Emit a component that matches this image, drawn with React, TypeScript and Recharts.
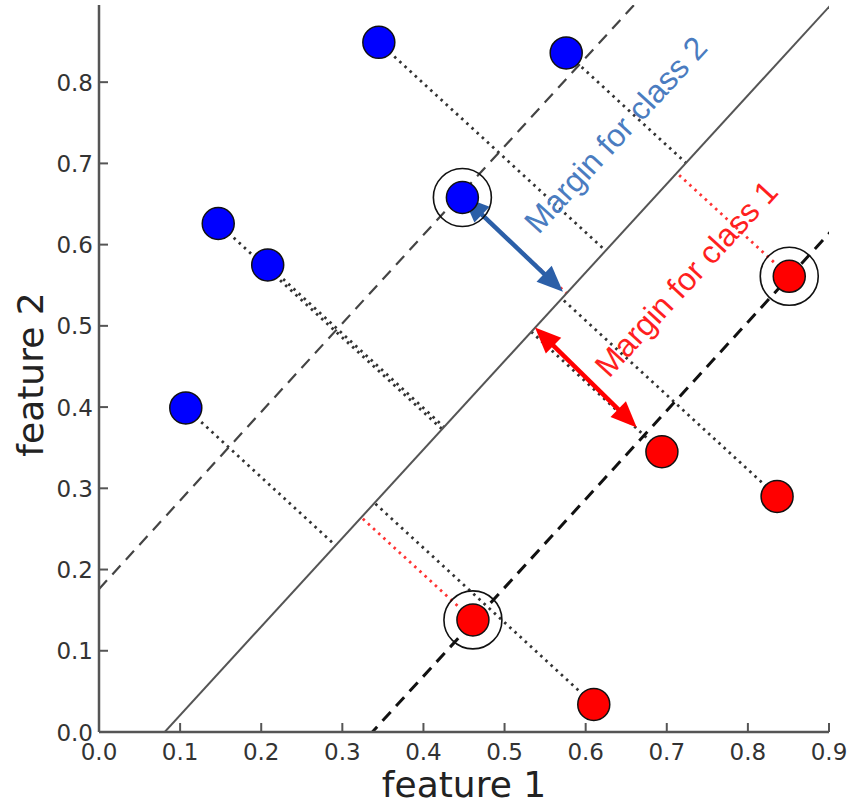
import { ReferenceDot, ReferenceLine, Scatter, ScatterChart, XAxis, YAxis } from "recharts"

const xTicks = [0, 0.1, 0.2, 0.3, 0.4, 0.5, 0.6, 0.7, 0.8, 0.9]
const yTicks = [0, 0.1, 0.2, 0.3, 0.4, 0.5, 0.6, 0.7, 0.8]

// class 2 (blue points)
const class2X = [0.345, 0.576, 0.448, 0.147, 0.208, 0.107]
const class2Y = [0.849, 0.836, 0.658, 0.626, 0.575, 0.399]

// class 1 (red points)
const class1X = [0.851, 0.694, 0.836, 0.461, 0.61]
const class1Y = [0.561, 0.345, 0.29, 0.138, 0.034]

// support vectors (ringed)
const supportX = [0.448, 0.851, 0.461]
const supportY = [0.658, 0.561, 0.138]

// boundary lines: y = slope * (x - x0)
const slope = 1.09
const boundaryX0 = 0.081
const margin2X0 = -0.1615
const margin1X0 = 0.337

// margin arrows
const blueArrowX = [0.449, 0.572]
const blueArrowY = [0.659, 0.542]
const redArrowX = [0.5375, 0.663]
const redArrowY = [0.498, 0.375]

const labelText = ["Margin for class 2", "Margin for class 1"]
const labelX = [0.647, 0.734]
const labelY = [0.726, 0.549]

const class2 = class2X.map((x, i) => ({ x, y: class2Y[i] }))
const class1 = class1X.map((x, i) => ({ x, y: class1Y[i] }))
const support = supportX.map((x, i) => ({ x, y: supportY[i] }))

const isSupport = (p: { x: number; y: number }) => support.some((s) => s.x === p.x && s.y === p.y)

// foot of the perpendicular from a point onto the decision line
function foot(px: number, py: number) {
  const d = (slope * px - py - slope * boundaryX0) / (slope * slope + 1)
  return { x: px - slope * d, y: py + d }
}

const projections = [...class2, ...class1].map((p) => ({ from: p, to: foot(p.x, p.y), sv: isSupport(p) }))

const lineSeg = (x0: number) => [
  { x: -0.3, y: slope * (-0.3 - x0) },
  { x: 1.2, y: slope * (1.2 - x0) },
]

const tickFont = "'DejaVu Sans', sans-serif"
const annoFont = "'Liberation Sans', Arial, sans-serif"
const spine = "#555"

const XTick = (p: any) => (
  <g>
    <line x1={p.x} y1={p.y} x2={p.x} y2={p.y - 9} stroke={spine} strokeWidth={2} />
    <text x={p.x} y={p.y + 28} textAnchor="middle" fontSize={23} fontFamily={tickFont} fill="#333">
      {Number(p.payload.value).toFixed(1)}
    </text>
  </g>
)

const TopTick = (p: any) => <line x1={p.x} y1={p.y} x2={p.x} y2={p.y + 9} stroke={spine} strokeWidth={2} />

const YTick = (p: any) => (
  <g>
    <line x1={p.x} y1={p.y} x2={p.x + 9} y2={p.y} stroke={spine} strokeWidth={2} />
    <text x={p.x - 6} y={p.y + 8.5} textAnchor="end" fontSize={23} fontFamily={tickFont} fill="#333">
      {Number(p.payload.value).toFixed(1)}
    </text>
  </g>
)

const RightTick = (p: any) => <line x1={p.x} y1={p.y} x2={p.x - 9} y2={p.y} stroke={spine} strokeWidth={2} />

const XLabel = (p: any) => {
  const vb = p.viewBox
  return (
    <text x={vb.x + vb.width / 2} y={vb.y + 65} textAnchor="middle" fontSize={36} fontFamily={tickFont} fill="#222">
      feature 1
    </text>
  )
}

const YLabel = (p: any) => {
  const vb = p.viewBox
  const cx = 43
  const cy = vb.y + vb.height / 2 + 6
  return (
    <text x={cx} y={cy} transform={`rotate(-90 ${cx} ${cy})`} textAnchor="middle" fontSize={36} fontFamily={tickFont} fill="#222">
      feature 2
    </text>
  )
}

const Arrow = (p: any) => {
  const { x1, y1, x2, y2, color } = p
  const len = Math.hypot(x2 - x1, y2 - y1)
  const ux = (x2 - x1) / len
  const uy = (y2 - y1) / len
  const nx = -uy
  const ny = ux
  const head = 26
  const half = 11
  const tri = (tx: number, ty: number, s: number) =>
    `${tx},${ty} ${tx + s * ux * head + nx * half},${ty + s * uy * head + ny * half} ${tx + s * ux * head - nx * half},${ty + s * uy * head - ny * half}`
  return (
    <g>
      <line x1={x1 + ux * head * 0.8} y1={y1 + uy * head * 0.8} x2={x2 - ux * head * 0.8} y2={y2 - uy * head * 0.8} stroke={color} strokeWidth={4.5} />
      <polygon points={tri(x1, y1, 1)} fill={color} />
      <polygon points={tri(x2, y2, -1)} fill={color} />
    </g>
  )
}

const angle = (-Math.atan(slope) * 180) / Math.PI

const Annotation = (p: any) => (
  <text
    x={p.cx}
    y={p.cy}
    transform={`rotate(${angle} ${p.cx} ${p.cy})`}
    textAnchor="middle"
    fontSize={p.size}
    fontFamily={annoFont}
    fill={p.color}
  >
    {p.text}
  </text>
)

export default function App() {
  return (
    <div style={{ position: "absolute", left: 0, top: 0, background: "#fff" }}>
      <ScatterChart width={854} height={804} margin={{ top: 5, right: 25, bottom: 0, left: 0 }}>
        <XAxis
          type="number"
          dataKey="x"
          domain={[0, 0.9]}
          ticks={xTicks}
          allowDataOverflow
          height={72}
          stroke={spine}
          axisLine={{ stroke: spine, strokeWidth: 2.5 }}
          tickLine={false}
          tickSize={0}
          tickMargin={0}
          tick={(p: any) => <XTick {...p} />}
          label={<XLabel />}
        />
        <XAxis
          xAxisId="top"
          orientation="top"
          type="number"
          domain={[0, 0.9]}
          ticks={xTicks}
          allowDataOverflow
          height={0}
          axisLine={{ stroke: spine, strokeWidth: 2.5 }}
          tickLine={false}
          tickSize={0}
          tickMargin={0}
          tick={(p: any) => <TopTick {...p} />}
        />
        <YAxis
          type="number"
          dataKey="y"
          domain={[0, 0.895]}
          ticks={yTicks}
          allowDataOverflow
          width={99}
          axisLine={{ stroke: spine, strokeWidth: 2.5 }}
          tickLine={false}
          tickSize={0}
          tickMargin={0}
          tick={(p: any) => <YTick {...p} />}
          label={<YLabel />}
        />
        <YAxis
          yAxisId="right"
          orientation="right"
          type="number"
          domain={[0, 0.895]}
          ticks={yTicks}
          allowDataOverflow
          width={0}
          axisLine={{ stroke: spine, strokeWidth: 2.5 }}
          tickLine={false}
          tickSize={0}
          tickMargin={0}
          tick={(p: any) => <RightTick {...p} />}
        />

        <Scatter
          data={class2}
          isAnimationActive={false}
          shape={(p: any) => <circle cx={p.cx} cy={p.cy} r={16} fill="#0000ff" stroke="#111" strokeWidth={1.5} />}
        />
        <Scatter
          data={class1}
          isAnimationActive={false}
          shape={(p: any) => <circle cx={p.cx} cy={p.cy} r={16} fill="#ff0000" stroke="#111" strokeWidth={1.5} />}
        />
        <Scatter
          data={support}
          isAnimationActive={false}
          shape={(p: any) => <circle cx={p.cx} cy={p.cy} r={29} fill="none" stroke="#111" strokeWidth={1.6} />}
        />

        {projections.map((pr, i) => (
          <ReferenceLine
            key={`proj-${i}`}
            segment={[pr.from, pr.to]}
            stroke={pr.sv ? "#ff3333" : "#333"}
            strokeWidth={2.8}
            strokeDasharray="2.5 4.5"
            ifOverflow="visible"
          />
        ))}

        <ReferenceLine segment={lineSeg(boundaryX0)} stroke="#555" strokeWidth={2} ifOverflow="hidden" />
        <ReferenceLine segment={lineSeg(margin2X0)} stroke="#444" strokeWidth={2.2} strokeDasharray="12 8" ifOverflow="hidden" />
        <ReferenceLine segment={lineSeg(margin1X0)} stroke="#111" strokeWidth={3} strokeDasharray="12 8" ifOverflow="hidden" />

        <ReferenceLine
          segment={[
            { x: blueArrowX[0], y: blueArrowY[0] },
            { x: blueArrowX[1], y: blueArrowY[1] },
          ]}
          ifOverflow="visible"
          shape={(p: any) => <Arrow {...p} color="#2b5fa8" />}
        />
        <ReferenceLine
          segment={[
            { x: redArrowX[0], y: redArrowY[0] },
            { x: redArrowX[1], y: redArrowY[1] },
          ]}
          ifOverflow="visible"
          shape={(p: any) => <Arrow {...p} color="#ff0000" />}
        />

        <ReferenceDot
          x={labelX[0]}
          y={labelY[0]}
          ifOverflow="visible"
          shape={(p: any) => <Annotation {...p} text={labelText[0]} color="#4a7cc0" size={32} />}
        />
        <ReferenceDot
          x={labelX[1]}
          y={labelY[1]}
          ifOverflow="visible"
          shape={(p: any) => <Annotation {...p} text={labelText[1]} color="#ff1f1f" size={32} />}
        />
      </ScatterChart>
    </div>
  )
}
